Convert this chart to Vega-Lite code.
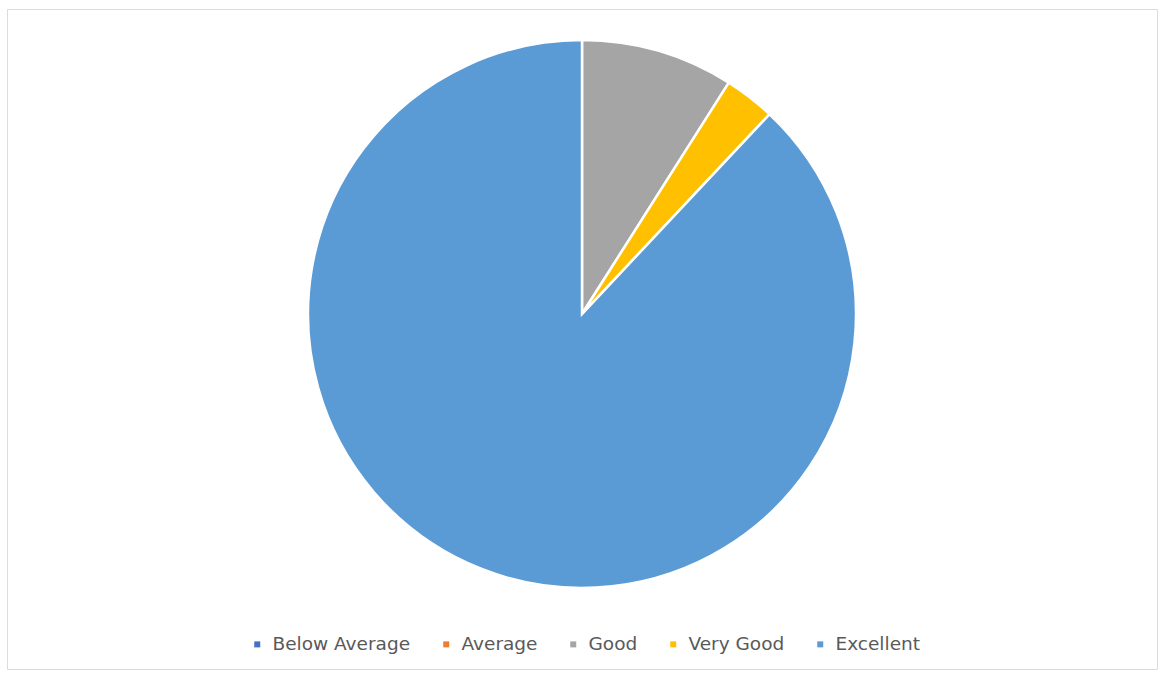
{
  "$schema": "https://vega.github.io/schema/vega-lite/v6.json",
  "width": 1150,
  "height": 660,
  "padding": {"left": 7, "top": 9, "right": 8, "bottom": 6},
  "autosize": {"type": "none"},
  "background": "white",
  "view": {"stroke": "#dcdcdc", "strokeWidth": 1, "fill": "white"},
  "config": {
    "font": "DejaVu Sans"
  },
  "data": {
    "values": [
      {"rating": "Below Average", "share": 0, "idx": 1},
      {"rating": "Average", "share": 0, "idx": 2},
      {"rating": "Good", "share": 9, "idx": 3},
      {"rating": "Very Good", "share": 3, "idx": 4},
      {"rating": "Excellent", "share": 88, "idx": 5}
    ]
  },
  "mark": {"type": "arc", "outerRadius": 274, "stroke": "white", "strokeWidth": 2.5, "yOffset": -25},
  "encoding": {
    "theta": {"field": "share", "type": "quantitative", "stack": true},
    "order": {"field": "idx", "type": "quantitative"},
    "color": {
      "field": "rating",
      "type": "nominal",
      "scale": {
        "domain": ["Below Average", "Average", "Good", "Very Good", "Excellent"],
        "range": ["#4472C4", "#ED7D31", "#A5A5A5", "#FFC000", "#5B9BD5"]
      },
      "legend": {
        "title": null,
        "orient": "none",
        "direction": "horizontal",
        "legendX": 241,
        "legendY": 626,
        "symbolType": "square",
        "symbolSize": 36,
        "symbolStrokeWidth": 0,
        "labelFont": "DejaVu Sans",
        "labelFontSize": 18.5,
        "labelColor": "#595959",
        "labelOffset": 6,
        "columnPadding": 26,
        "labelLimit": 300
      }
    }
  }
}
